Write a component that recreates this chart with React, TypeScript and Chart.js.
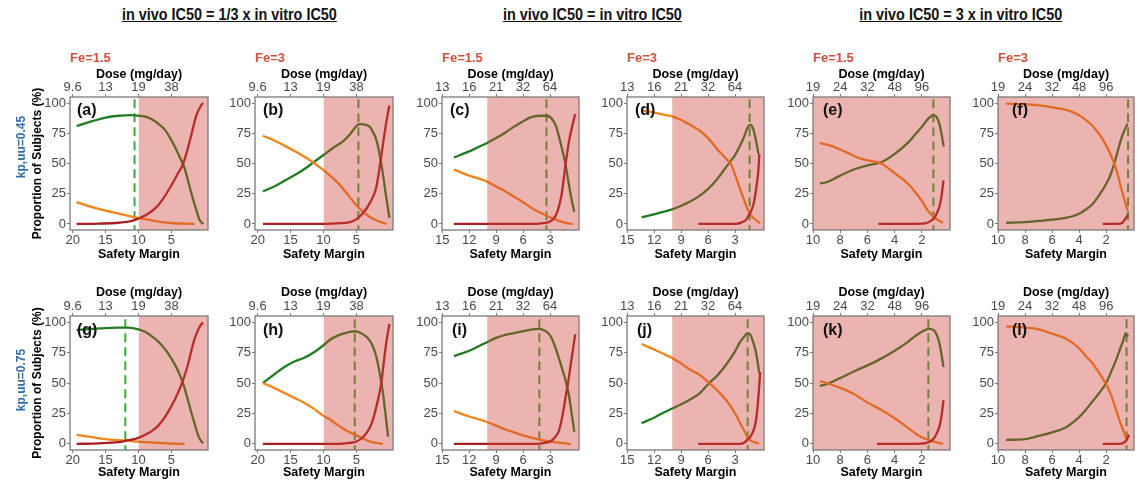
import React, { useEffect, useRef } from 'react';
import { Chart, registerables } from 'chart.js';

Chart.register(...registerables);

type Pt = [number, number];

// ---------- axis ticks (safety margin, bottom) and dose labels (top) ----------
const SM_TICKS: number[][] = [
  [20, 15, 10, 5],
  [15, 12, 9, 6, 3],
  [10, 8, 6, 4, 2],
];
const DOSE_LABELS: string[][] = [
  ['9.6', '13', '19', '38'],
  ['13', '16', '21', '32', '64'],
  ['19', '24', '32', '48', '96'],
];
const SM_MIN = [-0.55, -0.22, -0.06];
const SM_MAX = [20.4, 15.02, 10.0];
const Y_TICKS = [0, 25, 50, 75, 100];
const RISK_SM = 10; // safety margin below which region is shaded

const COLUMN_TITLES = [
  'in vivo IC50 = 1/3 x in vitro IC50',
  'in vivo IC50 = in vitro IC50',
  'in vivo IC50 = 3 x in vitro IC50',
];
const FE_LABELS = ['Fe=1.5', 'Fe=3', 'Fe=1.5', 'Fe=3', 'Fe=1.5', 'Fe=3'];
const ROW_LABELS = ['kp,uu=0.45', 'kp,uu=0.75'];
const PANEL_LETTERS = ['(a)', '(b)', '(c)', '(d)', '(e)', '(f)', '(g)', '(h)', '(i)', '(j)', '(k)', '(l)'];

// ---------- data: [safety margin, % of subjects] ----------
const A_GREEN: Pt[] = [[19.4,81],[17,85],[15,88],[13,89.5],[11,90],[10,89.5],[8.8,88.5],[7.5,85],[6.8,82],[6,78],[5.3,72],[4.5,64],[3.8,56],[3,46],[2.2,30],[1.7,20],[1.2,11],[0.7,3],[0.2,0]];
const A_ORANGE: Pt[] = [[19.4,18],[17,14],[15,11],[13,8.5],[11,6],[9,4],[7,2],[5,0.8],[3,0.2],[1.5,0]];
const A_RED: Pt[] = [[19.4,0],[16,0.3],[13,1],[11,2.5],[10,4.5],[9,7],[8,10.5],[7,15.5],[6,23],[5,32],[4,42],[3.2,50],[2.2,69],[1.2,90],[0.5,98],[0.2,100]];
const A_DASH = 10.6;

const B_GREEN: Pt[] = [[19.2,27],[17.5,31],[16,35.5],[14.5,40],[13,45],[11.5,51],[10,57],[8.5,63],[7,68.5],[6,74],[5,81],[4.5,82.5],[3.5,82],[3,80.5],[2.5,76],[2,70],[1.5,58],[1,42],[0.5,23],[0,5]];
const B_ORANGE: Pt[] = [[19.2,73],[17.5,69],[16,65],[14,59],[12,52.5],[10,44.5],[9,40],[8,35],[7,29],[6,22],[5,15.5],[4,10],[3,6],[2,3],[1,1],[0.4,0]];
const B_RED: Pt[] = [[19.2,0],[10,0],[8,0.5],[6,1.5],[5,4],[4,9],[3,17],[2,30],[1.5,46],[1,65],[0.5,83],[0,98]];
const B_DASH = 4.7;

const C_GREEN: Pt[] = [[13.7,55],[12,60],[11,63.5],[10,67],[9,71],[8,75.5],[7,80.5],[6,85],[5,88.5],[4,89.5],[3.4,89.5],[2.8,87],[2.3,80],[1.9,69],[1.3,50],[0.96,35],[0.6,20],[0.3,10]];
const C_ORANGE: Pt[] = [[13.7,45],[12,40],[10,35],[9,31],[8,27],[7,22.5],[6,18],[5,13],[4,9],[3,5.5],[2,2.5],[1,0.5],[0.5,0]];
const C_RED: Pt[] = [[13.7,0],[5,0],[4,0.5],[3,2],[2.3,8],[1.7,25],[1.3,48],[0.9,68],[0.5,82],[0.2,91]];
const C_DASH = 3.4;

const D_GREEN: Pt[] = [[13.4,5.5],[12,8],[11,10],[10,12],[9,15],[8,18.5],[7,23],[6,29],[5,37],[4,47],[3.5,52],[3,57],[2.5,64],[2,72],[1.6,80],[1.3,82],[1,79],[0.7,70],[0.4,58]];
const D_ORANGE: Pt[] = [[13.4,94],[12,92],[11,90.5],[10,89],[9,86],[8,82],[7,77.5],[6,71],[5,62],[4,54],[3.5,50],[3,41],[2.5,30],[2,20],[1.6,12],[1.2,7],[0.9,4.5],[0.2,0.5]];
const D_RED: Pt[] = [[7.1,0],[3,0],[2.2,1.5],[1.7,4],[1.5,7],[1.2,11],[0.9,18],[0.6,32],[0.4,45],[0.3,58]];
const D_DASH = 1.38;

const E_GREEN: Pt[] = [[9.5,33.5],[9,34.5],[8,40],[7,45],[6,48.5],[5,51],[4,58],[3,67.5],[2.5,74],[2,80.5],[1.5,87.5],[1.15,90],[0.9,88],[0.7,82],[0.4,64]];
const E_ORANGE: Pt[] = [[9.5,67],[8.5,64],[7.5,59],[6.5,54],[5.5,51.5],[5,50],[4,42],[3,33],[2.4,25],[2,19],[1.6,11.5],[1.15,6],[0.8,3],[0.45,1]];
const E_RED: Pt[] = [[5.2,0],[2,0.3],[1.6,1],[1.3,3],[1.1,5],[0.9,9],[0.7,15],[0.55,24],[0.42,36]];
const E_DASH = 1.16;

const F_GREEN: Pt[] = [[9.4,1],[8,1.5],[7,2.5],[6,3.5],[5,5],[4,8.5],[3.5,12],[3,16.5],[2.5,24],[2,33],[1.7,40],[1.4,50],[1.1,62],[0.9,70],[0.7,76],[0.42,83]];
const F_ORANGE: Pt[] = [[9.4,99.5],[8,99],[7,98],[6,96.5],[5,94.5],[4,90],[3.5,86],[3,81],[2.5,74],[2,65],[1.7,58],[1.4,50],[1.1,39],[0.9,30],[0.7,22],[0.42,11]];
const F_RED: Pt[] = [[2.25,0],[1,0.3],[0.8,1],[0.6,4],[0.4,7.5]];
const F_DASH = 0.38;

const G_GREEN: Pt[] = [[19.4,93.5],[17,94.5],[15,95],[13,95.5],[11.5,95.5],[10,94],[9,92],[8,88.5],[7,84],[6,78],[5,70],[4,60],[3.2,49],[2.5,36],[2,26],[1.5,17],[1.2,11],[0.7,4],[0.2,0.5]];
const G_ORANGE: Pt[] = [[19.4,7.5],[17,5.5],[15,4],[13,3],[11,2.2],[9,1.5],[7,0.8],[5,0.3],[3,0]];
const G_RED: Pt[] = [[19.4,0],[16,0.5],[13,1.5],[12,2.5],[10,5],[9,7.5],[8,10.5],[7,15],[6,22],[5,31],[4,42],[3.2,53],[2.5,65],[2,76],[1.5,86],[1,93],[0.5,98],[0.2,99.5]];
const G_DASH = 12.0;

const H_GREEN: Pt[] = [[19.2,50],[17.5,57],[16,63],[14.5,67.5],[13,70.5],[11.5,75],[10,81],[9,85.5],[8,88.5],[7,90.5],[6,92],[5.3,92.5],[4.5,91.5],[3.5,88],[3,85],[2.5,80],[2,72],[1.5,59],[1,43],[0.6,25],[0.2,6]];
const H_ORANGE: Pt[] = [[19.2,50],[17.5,46],[16,42],[14.5,38],[13,34],[11.5,29],[10,23],[9,20],[8,16],[7,12.5],[6,9.5],[5,7],[4,4.5],[3,2],[2,0.8],[1,0]];
const H_RED: Pt[] = [[19.2,0],[8,0],[7,0.3],[6,0.8],[5,2],[4,5.5],[3,13],[2.5,20],[2,30],[1.5,42],[1.2,51],[1,60],[0.5,82],[0,98.5]];
const H_DASH = 5.26;

const I_GREEN: Pt[] = [[13.7,72],[12,76.5],[11,80],[10,83.5],[9,87],[8,89.5],[7,91],[6,92.5],[5,94],[4.2,94.5],[3.6,93],[3,89],[2.5,81],[2,70],[1.5,58],[1.2,50],[0.9,40],[0.6,25],[0.3,10]];
const I_ORANGE: Pt[] = [[13.7,27],[12,22.5],[10,18],[9,15],[8,12],[7,9.5],[6,7],[5,5],[4,3.2],[3,2],[2,1],[1,0.2],[0.7,0]];
const I_RED: Pt[] = [[13.7,0],[4.5,0],[3.5,1],[3,2],[2.5,5],[2,11],[1.5,28],[1.2,42],[1,50],[0.7,65],[0.2,90]];
const I_DASH = 4.19;

const J_GREEN: Pt[] = [[13.4,17],[12,21.5],[11,25.5],[10,29],[9,32.5],[8,36.5],[7,41],[6,49],[5,56],[4,65],[3,76],[2.5,83],[2,88],[1.6,91],[1.3,89.5],[1,84],[0.7,76],[0.3,58]];
const J_ORANGE: Pt[] = [[13.4,82],[12,77.5],[11,74],[10,70.5],[9,66],[8,61],[7,57],[6,51],[5,44],[4,36],[3,25],[2.5,18],[2,11],[1.6,5],[1.2,2.5],[0.8,1.2],[0.3,0.5]];
const J_RED: Pt[] = [[7.1,0],[2.5,0],[2,1],[1.6,3.5],[1.3,6],[1,10],[0.7,18],[0.5,30],[0.2,59]];
const J_DASH = 1.6;

const K_GREEN: Pt[] = [[9.5,47.5],[9,49],[8,54],[7,59.5],[6,64.5],[5,70],[4,76.5],[3,84],[2.5,88.5],[2,92],[1.5,94.5],[1.1,93],[0.8,86],[0.6,76],[0.42,63]];
const K_ORANGE: Pt[] = [[9.5,51.5],[9,50],[8,46],[7,41],[6,34],[5,28],[4,21],[3,13],[2.4,8],[2,5.5],[1.5,3.2],[1,1.5],[0.45,0]];
const K_RED: Pt[] = [[5.3,0],[2,0.3],[1.6,1],[1.3,2.5],[1.1,5],[0.9,9],[0.7,15],[0.55,24],[0.42,36]];
const K_DASH = 1.53;

const L_GREEN: Pt[] = [[9.4,3.3],[8,4],[7,6.5],[6,9.5],[5,13.5],[4,22],[3.5,28],[3,35],[2.5,42],[2,50],[1.6,60],[1.3,68],[1,77],[0.7,86],[0.55,91],[0.38,88]];
const L_ORANGE: Pt[] = [[9.4,96.5],[8,95.5],[7,94],[6,90.5],[5,86.5],[4,78.5],[3.5,72],[3,66],[2.5,58],[2,49],[1.6,39],[1.3,29],[1,19],[0.7,10],[0.45,3]];
const L_RED: Pt[] = [[2.25,0],[0.9,0.3],[0.7,1],[0.5,3],[0.3,7.5]];
const L_DASH = 0.49;

const PANEL_DATA = [
  { green: A_GREEN, orange: A_ORANGE, red: A_RED, dash: A_DASH },
  { green: B_GREEN, orange: B_ORANGE, red: B_RED, dash: B_DASH },
  { green: C_GREEN, orange: C_ORANGE, red: C_RED, dash: C_DASH },
  { green: D_GREEN, orange: D_ORANGE, red: D_RED, dash: D_DASH },
  { green: E_GREEN, orange: E_ORANGE, red: E_RED, dash: E_DASH },
  { green: F_GREEN, orange: F_ORANGE, red: F_RED, dash: F_DASH },
  { green: G_GREEN, orange: G_ORANGE, red: G_RED, dash: G_DASH },
  { green: H_GREEN, orange: H_ORANGE, red: H_RED, dash: H_DASH },
  { green: I_GREEN, orange: I_ORANGE, red: I_RED, dash: I_DASH },
  { green: J_GREEN, orange: J_ORANGE, red: J_RED, dash: J_DASH },
  { green: K_GREEN, orange: K_ORANGE, red: K_RED, dash: K_DASH },
  { green: L_GREEN, orange: L_ORANGE, red: L_RED, dash: L_DASH },
];

// ---------- layout & style ----------
const FONT = "'Liberation Sans', Arial, Helvetica, sans-serif";
const BOX_L = [70, 255, 442, 627, 813, 998];
const BOX_R = [208, 393, 579, 764, 950, 1134];
const ROWS = [
  { top: 97, bottom: 230, cTop: 60, cBottom: 265, doseY: 75, smY: 255 },
  { top: 316, bottom: 450, cTop: 278, cBottom: 482, doseY: 293, smY: 473 },
];
const LETTER_DX = [7, 8, 8, 8, 10, 14, 7, 8, 10, 10, 10, 14];
const Y_AXIS_W = 60;
const PAD_R = 3;
const TITLE_SIZE = 12.5;
const TICK_SIZE = 13;

const GREEN = '#227c22';
const ORANGE = '#f28418';
const RED = '#a81e22';
const DASH_COLOR = '#3aaa3a';
const OVERLAY = 'rgba(205,68,58,0.4)';
const FRAME = '#7a7a7a';
const TICK_COLOR = '#4a4a4a';

const framePlugin = {
  id: 'frame',
  afterDraw(chart: any) {
    const { ctx, chartArea: a } = chart;
    ctx.save();
    ctx.strokeStyle = FRAME;
    ctx.lineWidth = 1.3;
    ctx.strokeRect(a.left, a.top, a.right - a.left, a.bottom - a.top);
    ctx.restore();
  },
};

function Panel({ index }: { index: number }) {
  const ref = useRef<HTMLCanvasElement>(null);
  const row = Math.floor(index / 6);
  const col = index % 6;
  const R = ROWS[row];
  const left = BOX_L[col] - Y_AXIS_W;
  const width = BOX_R[col] - left + PAD_R;
  const height = R.cBottom - R.cTop;

  useEffect(() => {
    if (!ref.current) return;
    const g = Math.floor(col / 2);
    const d = PANEL_DATA[index];
    const lh = TITLE_SIZE * 1.2;
    const toXY = (pts: Pt[]) => pts.map(([x, y]) => ({ x, y }));
    const curve = (pts: Pt[], color: string) => ({
      data: toXY(pts),
      borderColor: color,
      backgroundColor: color,
      borderWidth: 2.3,
      pointRadius: 0,
      fill: false,
      cubicInterpolationMode: 'monotone',
    });
    const grid = { drawOnChartArea: false, drawTicks: true, tickLength: 3, color: FRAME, lineWidth: 1 };
    const tickFont = { size: TICK_SIZE, lineHeight: 1 };
    const titleFont = { size: TITLE_SIZE, weight: 'bold' };

    const chart = new Chart(ref.current, {
      type: 'line',
      data: {
        datasets: [
          {
            data: [{ x: RISK_SM, y: 120 }, { x: -30, y: 120 }],
            borderWidth: 0,
            borderColor: 'rgba(0,0,0,0)',
            backgroundColor: OVERLAY,
            pointRadius: 0,
            fill: 'start',
          },
          curve(d.red, RED),
          curve(d.orange, ORANGE),
          curve(d.green, GREEN),
          {
            data: [{ x: d.dash, y: -20 }, { x: d.dash, y: 120 }],
            borderColor: DASH_COLOR,
            borderWidth: 2,
            borderDash: [9, 5],
            pointRadius: 0,
            fill: false,
          },
        ] as any,
      },
      options: {
        animation: false,
        responsive: false,
        devicePixelRatio: 1,
        events: [],
        layout: { padding: { left: 0, right: PAD_R, top: 0, bottom: 0 } },
        plugins: { legend: { display: false }, tooltip: { enabled: false } },
        scales: {
          x: {
            type: 'linear',
            position: 'bottom',
            reverse: true,
            min: SM_MIN[g],
            max: SM_MAX[g],
            afterBuildTicks: (s: any) => { s.ticks = SM_TICKS[g].map((v) => ({ value: v })); },
            afterFit: (s: any) => { s.height = R.cBottom - R.bottom; },
            ticks: { autoSkip: false, maxRotation: 0, minRotation: 0, padding: 1, color: TICK_COLOR, font: tickFont, callback: (v: any) => String(v) },
            grid,
            border: { display: false },
            title: { display: true, text: 'Safety Margin', color: '#000', font: titleFont, padding: { top: 0, bottom: R.cBottom - R.smY - lh / 2 } },
          },
          x2: {
            type: 'linear',
            position: 'top',
            reverse: true,
            min: SM_MIN[g],
            max: SM_MAX[g],
            afterBuildTicks: (s: any) => { s.ticks = SM_TICKS[g].map((v) => ({ value: v })); },
            afterFit: (s: any) => { s.height = R.top - R.cTop; },
            ticks: {
              autoSkip: false, maxRotation: 0, minRotation: 0, padding: 0, color: TICK_COLOR, font: tickFont,
              callback: (v: any) => DOSE_LABELS[g][SM_TICKS[g].indexOf(v)] ?? '',
            },
            grid,
            border: { display: false },
            title: { display: true, text: 'Dose (mg/day)', color: '#000', font: titleFont, padding: { top: R.doseY - R.cTop - lh / 2, bottom: 0 } },
          },
          y: {
            type: 'linear',
            position: 'left',
            min: -5,
            max: 105,
            afterBuildTicks: (s: any) => { s.ticks = Y_TICKS.map((v) => ({ value: v })); },
            afterFit: (s: any) => { s.width = Y_AXIS_W; },
            ticks: { autoSkip: false, padding: 1, color: TICK_COLOR, font: tickFont },
            grid,
            border: { display: false },
            title: {
              display: col === 0,
              text: 'Proportion of Subjects (%)',
              color: '#000',
              font: { size: 12, weight: 'bold' },
              padding: { top: 38 - left - 7.2, bottom: 0 },
            },
          },
        },
      } as any,
      plugins: [framePlugin],
    });
    return () => chart.destroy();
  }, [index]);

  return (
    <canvas
      ref={ref}
      width={width}
      height={height}
      style={{ position: 'absolute', left, top: R.cTop, width, height }}
    />
  );
}

export default function App() {
  const titleCenters = [229, 592, 961];
  return (
    <div
      style={{
        position: 'absolute', left: 0, top: 0, width: 1140, height: 482,
        background: '#fff', overflow: 'hidden', fontFamily: FONT,
      }}
    >
      {PANEL_LETTERS.map((_, i) => <Panel key={i} index={i} />)}

      {COLUMN_TITLES.map((t, i) => (
        <div key={t} style={{ position: 'absolute', left: titleCenters[i] - 200, top: 7, width: 400, textAlign: 'center', lineHeight: 1 }}>
          <span style={{ display: 'inline-block', fontSize: 16, fontWeight: 'bold', textDecoration: 'underline', transform: 'scaleX(0.9)', color: '#111', whiteSpace: 'nowrap' }}>{t}</span>
        </div>
      ))}

      {FE_LABELS.map((t, i) => (
        <div key={i} style={{ position: 'absolute', left: BOX_L[i], top: 50.5, fontSize: 13, fontWeight: 'bold', color: '#d0503c', lineHeight: 1, whiteSpace: 'nowrap' }}>{t}</div>
      ))}

      {ROW_LABELS.map((t, r) => (
        <div key={t} style={{
          position: 'absolute', left: 21, top: r === 0 ? 147 : 380, transform: 'translate(-50%, -50%) rotate(-90deg)',
          fontSize: 12, fontWeight: 'bold', color: '#2f6ea8', whiteSpace: 'nowrap', lineHeight: 1,
        }}>{t}</div>
      ))}

      {PANEL_LETTERS.map((t, i) => {
        const row = Math.floor(i / 6);
        const col = i % 6;
        return (
          <div key={t} style={{
            position: 'absolute', left: BOX_L[col] + LETTER_DX[i], top: ROWS[row].top + (row === 0 ? 5 : 6),
            fontSize: 16, fontWeight: 'bold', color: '#111', lineHeight: 1, whiteSpace: 'nowrap',
          }}>{t}</div>
        );
      })}
    </div>
  );
}
